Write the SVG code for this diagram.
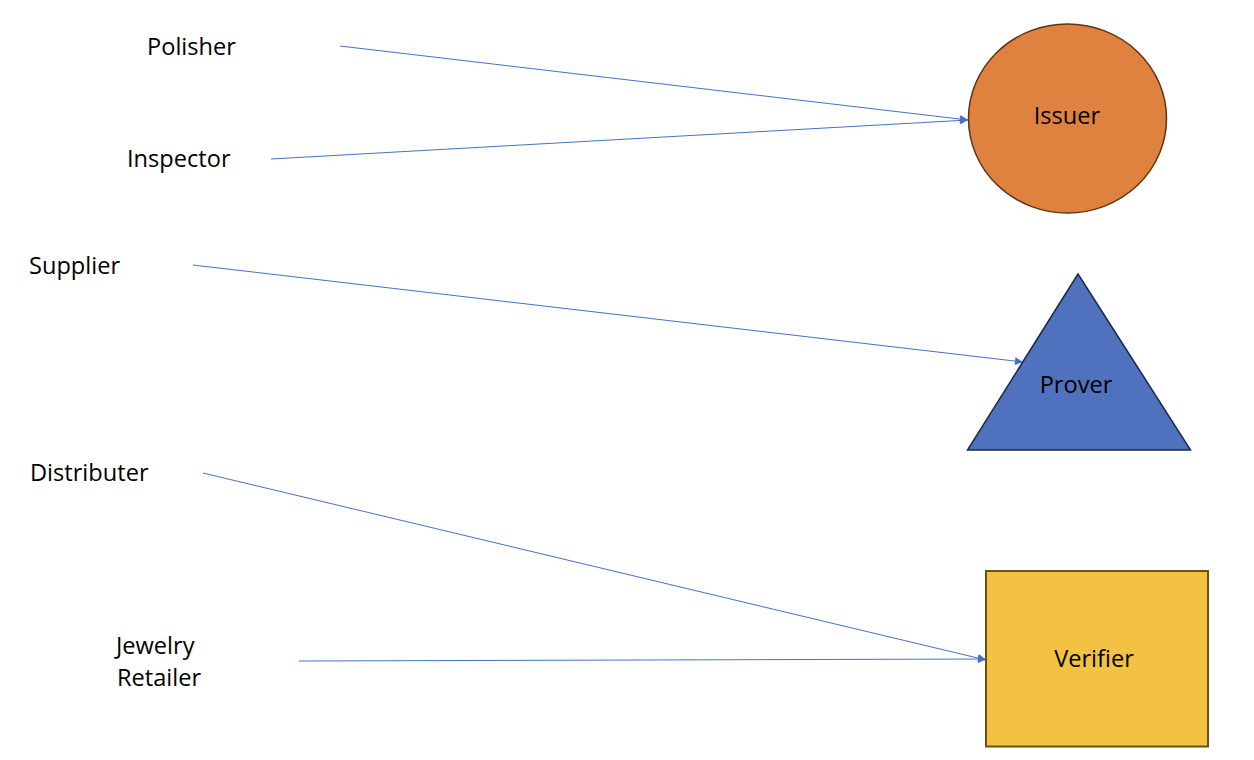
<svg xmlns="http://www.w3.org/2000/svg" width="1254" height="760" viewBox="0 0 1254 760">
<style>
text{font-family:"Open Sans","Noto Sans",sans-serif;font-size:23.6px;fill:#000}
.c{stroke:#4472C4;stroke-width:1;fill:none;marker-end:url(#ah)}
.m{text-anchor:middle}
</style>
<defs>
<marker id="ah" viewBox="0 0 10 10" refX="10" refY="5" markerWidth="10" markerHeight="8" markerUnits="userSpaceOnUse" orient="auto">
<path d="M0,0 L10,5 L0,10 z" fill="#4472C4"/>
</marker>
</defs>
<rect width="1254" height="760" fill="#fff"/>
<g id="connectors">
<line class="c" x1="340" y1="46" x2="968" y2="120"/>
<line class="c" x1="271" y1="159" x2="968" y2="120"/>
<line class="c" x1="193" y1="265" x2="1023" y2="362"/>
<line class="c" x1="203" y1="473" x2="986" y2="660"/>
<line class="c" x1="299" y1="661" x2="986" y2="659"/>
</g>
<g id="issuer">
<ellipse cx="1067.5" cy="118.5" rx="99" ry="94.5" fill="#E0823F" stroke="#5E3512" stroke-width="1.5"/>
<text class="m" x="1067" y="124">Issuer</text>
</g>
<g id="prover">
<polygon points="1078,274 1190.5,450 967.5,450" fill="#4F71BE" stroke="#1C2A48" stroke-width="1.5"/>
<text class="m" x="1076" y="393">Prover</text>
</g>
<g id="verifier">
<rect x="986" y="571" width="222" height="175.5" fill="#F4C242" stroke="#6B5214" stroke-width="2"/>
<text class="m" x="1094" y="667">Verifier</text>
</g>
<g id="polisher"><text x="147" y="55">Polisher</text></g>
<g id="inspector"><text x="127" y="167">Inspector</text></g>
<g id="supplier"><text x="29" y="274">Supplier</text></g>
<g id="distributer"><text x="30" y="481">Distributer</text></g>
<g id="jewelry-retailer"><text x="116" y="654">Jewelry</text><text x="117" y="686">Retailer</text></g>
</svg>
